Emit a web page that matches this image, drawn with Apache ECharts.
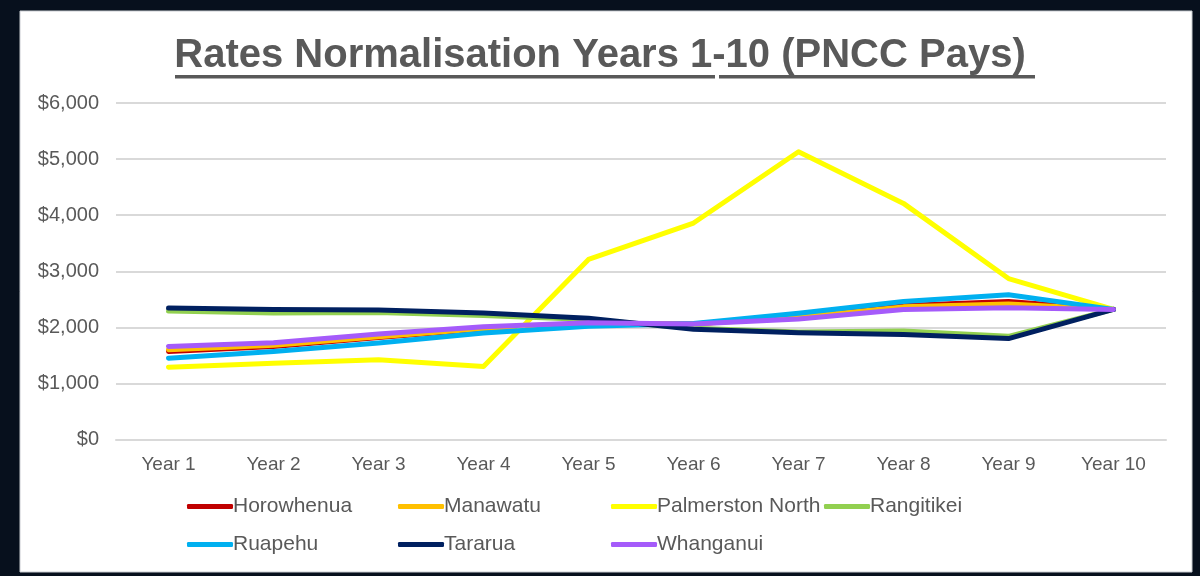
<!DOCTYPE html>
<html>
<head>
<meta charset="utf-8">
<script src="https://cdn.jsdelivr.net/npm/echarts@6/dist/echarts.min.js"></script>
<style>
  html, body { margin: 0; padding: 0; background: #07101d; }
  #chart { width: 1200px; height: 576px; }
</style>
</head>
<body>
<div id="chart"></div>
<script>
// Rates per year for each district (NZ$)
const years = ['Year 1', 'Year 2', 'Year 3', 'Year 4', 'Year 5', 'Year 6', 'Year 7', 'Year 8', 'Year 9', 'Year 10'];
const horowhenua      = [1570, 1660, 1820, 1970, 2060, 2060, 2200, 2390, 2460, 2320];
const manawatu        = [1600, 1680, 1830, 1980, 2065, 2060, 2180, 2365, 2415, 2320];
const palmerstonNorth = [1290, 1360, 1420, 1300, 3210, 3860, 5130, 4210, 2870, 2320];
const rangitikei      = [2290, 2255, 2265, 2210, 2140, 1985, 1915, 1935, 1840, 2320];
const ruapehu         = [1450, 1570, 1720, 1900, 2020, 2070, 2250, 2460, 2580, 2320];
const tararua         = [2345, 2320, 2310, 2255, 2160, 1965, 1905, 1870, 1800, 2320];
const whanganui       = [1660, 1725, 1880, 2010, 2080, 2060, 2150, 2320, 2350, 2320];

const seriesDefs = [
  { name: 'Horowhenua', data: horowhenua, color: '#C00000' },
  { name: 'Manawatu', data: manawatu, color: '#FFC000' },
  { name: 'Palmerston North', data: palmerstonNorth, color: '#FFFF00' },
  { name: 'Rangitikei', data: rangitikei, color: '#92D050' },
  { name: 'Ruapehu', data: ruapehu, color: '#00B0F0' },
  { name: 'Tararua', data: tararua, color: '#002060' },
  { name: 'Whanganui', data: whanganui, color: '#A55BFA' }
];

const textGray = '#595959';
const font = 'Arial, "Liberation Sans", sans-serif';

// Legend laid out as a 4-column table: one legend component per entry
const legendCols = [187, 398, 611, 824];
const legendRows = [496, 534];
const legends = seriesDefs.map((s, i) => ({
  data: [s.name],
  left: legendCols[i % 4],
  top: legendRows[Math.floor(i / 4)],
  icon: 'roundRect',
  itemWidth: 46,
  itemHeight: 5,
  itemGap: 0,
  padding: 0,
  textStyle: { color: textGray, fontSize: 21, fontFamily: font, padding: [0, 0, 0, -5] }
}));

const chart = echarts.init(document.getElementById('chart'));
chart.setOption({
  backgroundColor: '#07101d',
  animation: false,
  title: {
    text: 'Rates Normalisation Years 1-10 (PNCC Pays)',
    left: 'center',
    top: 31,
    textStyle: { color: textGray, fontSize: 40, fontWeight: 'bold', fontFamily: font }
  },
  graphic: [
    { type: 'rect', z: -10, silent: true, shape: { x: 20, y: 11, width: 1172, height: 561 }, style: { fill: '#ffffff', stroke: '#c9ccd1', lineWidth: 1 } },
    // title underline (two runs)
    { type: 'rect', silent: true, shape: { x: 175, y: 75, width: 540, height: 3.5 }, style: { fill: textGray } },
    { type: 'rect', silent: true, shape: { x: 719, y: 75, width: 316, height: 3.5 }, style: { fill: textGray } }
  ],
  grid: { left: 116, right: 34, top: 103, bottom: 136.5 },
  legend: legends,
  xAxis: {
    type: 'category',
    data: years,
    boundaryGap: true,
    axisLine: { show: true, lineStyle: { color: '#d9d9d9', width: 2 } },
    axisTick: { show: false },
    axisLabel: { color: textGray, fontSize: 19, fontFamily: font, margin: 16 }
  },
  yAxis: {
    type: 'value',
    min: 0,
    max: 6000,
    interval: 1000,
    axisLine: { show: false },
    axisTick: { show: false },
    splitLine: { lineStyle: { color: '#d9d9d9', width: 2 } },
    axisLabel: {
      color: textGray, fontSize: 20, fontFamily: font, margin: 17,
      formatter: v => '$' + v.toLocaleString('en-US')
    }
  },
  series: seriesDefs.map(s => ({
    name: s.name,
    type: 'line',
    data: s.data,
    color: s.color,
    showSymbol: false,
    symbol: 'none',
    lineStyle: { color: s.color, width: 5, cap: 'round', join: 'round' },
    itemStyle: { color: s.color }
  }))
});
</script>
</body>
</html>
